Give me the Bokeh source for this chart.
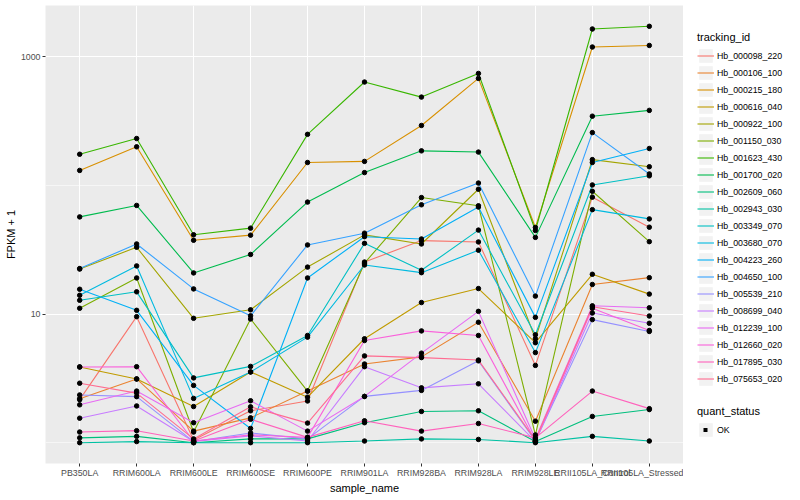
import math
from bokeh.plotting import figure
from bokeh.layouts import row
from bokeh.models import (FactorRange, Range1d, FixedTicker, Legend, LegendItem,
                          PrintfTickFormatter)
from bokeh.embed import file_html
from bokeh.resources import INLINE

samples = ["PB350LA", "RRIM600LA", "RRIM600LE", "RRIM600SE", "RRIM600PE",
           "RRIM901LA", "RRIM928BA", "RRIM928LA", "RRIM928LE",
           "RRII105LA_Control", "RRII105LA_Stressed"]

tracking_ids = ["Hb_000098_220", "Hb_000106_100", "Hb_000215_180", "Hb_000616_040",
                "Hb_000922_100", "Hb_001150_030", "Hb_001623_430", "Hb_001700_020",
                "Hb_002609_060", "Hb_002943_030", "Hb_003349_070", "Hb_003680_070",
                "Hb_004223_260", "Hb_004650_100", "Hb_005539_210", "Hb_008699_040",
                "Hb_012239_100", "Hb_012660_020", "Hb_017895_030", "Hb_075653_020"]

colors = ["#F8766D", "#EA8331", "#D89000", "#C09B00", "#A3A500", "#7CAE00", "#39B600",
          "#00BB4E", "#00BF7D", "#00C1A3", "#00BFC4", "#00BAE0", "#00B0F6", "#35A2FF",
          "#9590FF", "#C77CFF", "#E76BF3", "#FA62DB", "#FF62BC", "#FF6C91"]

# FPKM + 1 per sample
Hb_000098_220 = [2.16, 9.55, 1.05, 1.77, 2.11, 25.4, 37.3, 36.4, 3.99, 81.2, 47.4]
Hb_000106_100 = [2.2, 3.13, 1.23, 1.56, 2.52, 4.09, 4.65, 8.64, 1.47, 17.0, 19.2]
Hb_000215_180 = [131, 200, 37.5, 41.1, 151, 154, 293, 681, 47.2, 1194, 1228]
Hb_000616_040 = [3.88, 3.13, 1.91, 3.55, 2.26, 6.43, 12.3, 15.8, 5.99, 20.4, 14.3]
Hb_000922_100 = [22.4, 33.1, 9.27, 10.8, 23.2, 41.3, 35.1, 93.5, 6.43, 159, 140]
Hb_001150_030 = [11.1, 19.1, 1.21, 9.16, 2.52, 24.9, 80.6, 69.6, 1.15, 90.2, 36.6]
Hb_001623_430 = [175, 232, 41.4, 46.6, 250, 638, 487, 744, 44.7, 1649, 1730]
Hb_001700_020 = [57, 70, 20.9, 29.1, 74.3, 126, 186, 182, 39.5, 346, 384]
Hb_002609_060 = [1.09, 1.12, 1.0, 1.07, 1.07, 1.43, 1.75, 1.77, 1.02, 1.6, 1.81]
Hb_002943_030 = [1.0, 1.02, 1.0, 1.0, 1.0, 1.03, 1.07, 1.06, 1.0, 1.12, 1.03]
Hb_003349_070 = [12.8, 14.9, 3.19, 3.92, 6.82, 35.5, 21.9, 45.0, 6.9, 101, 119]
Hb_003680_070 = [14.0, 23.7, 2.21, 3.55, 6.62, 24.1, 21.0, 31.4, 5.02, 64.9, 55.0]
Hb_004223_260 = [15.6, 10.7, 2.79, 1.29, 19.1, 40.0, 38.4, 68.0, 9.43, 151, 194]
Hb_004650_100 = [22.6, 35.1, 15.7, 9.7, 34.5, 42.6, 70.8, 104.5, 13.8, 258, 123]
Hb_005539_210 = [2.35, 2.28, 1.02, 1.19, 1.07, 2.29, 2.55, 4.33, 1.03, 9.06, 7.33]
Hb_008699_040 = [1.55, 1.93, 1.02, 1.13, 1.03, 3.9, 2.67, 2.87, 1.02, 10.2, 8.48]
Hb_012239_100 = [1.97, 2.52, 1.43, 2.12, 1.23, 2.29, 4.97, 10.5, 1.07, 11.6, 11.2]
Hb_012660_020 = [3.88, 3.9, 1.03, 1.15, 1.1, 6.23, 7.4, 6.82, 1.03, 11.1, 7.46]
Hb_017895_030 = [1.21, 1.24, 1.03, 1.52, 1.1, 1.48, 1.23, 1.41, 1.09, 2.52, 1.84]
Hb_075653_020 = [2.9, 2.43, 1.07, 1.9, 1.42, 4.73, 4.59, 4.39, 1.05, 11.4, 9.66]

series = [Hb_000098_220, Hb_000106_100, Hb_000215_180, Hb_000616_040, Hb_000922_100,
          Hb_001150_030, Hb_001623_430, Hb_001700_020, Hb_002609_060, Hb_002943_030,
          Hb_003349_070, Hb_003680_070, Hb_004223_260, Hb_004650_100, Hb_005539_210,
          Hb_008699_040, Hb_012239_100, Hb_012660_020, Hb_017895_030, Hb_075653_020]

quant_status = ["OK"]

FONT = "Liberation Sans"
H = 496

all_vals = [v for s in series for v in s]
lo = math.log10(min(all_vals))
hi = math.log10(max(all_vals))
pad = 0.05 * (hi - lo)

p = figure(width=683, height=H,
           x_range=FactorRange(factors=samples, range_padding=0.2 / len(samples)),
           y_range=Range1d(10 ** (lo - pad), 10 ** (hi + pad)),
           y_axis_type="log", output_backend="svg", toolbar_location=None,
           min_border_left=45, min_border_right=0, min_border_top=5, min_border_bottom=0,
           background_fill_color="#EBEBEB", border_fill_color="white",
           outline_line_color=None)

for ax in (p.xaxis[0], p.yaxis[0]):
    ax.axis_line_color = None
    ax.major_tick_line_color = "#333333"
    ax.major_tick_in = 0
    ax.major_tick_out = 3
    ax.minor_tick_line_color = None
    ax.major_label_text_font = FONT
    ax.major_label_text_font_size = "8.8px"
    ax.major_label_text_color = "#4D4D4D"
    ax.major_label_standoff = 1
    ax.axis_label_text_font = FONT
    ax.axis_label_text_font_size = "11px"
    ax.axis_label_text_font_style = "normal"
    ax.axis_label_text_color = "black"
    ax.axis_label_standoff = 1

p.xaxis.axis_label = "sample_name"
p.yaxis.axis_label = "FPKM + 1"
yt = FixedTicker(ticks=[10, 1000], minor_ticks=[1, 100])
p.yaxis.ticker = yt
p.yaxis.formatter = PrintfTickFormatter(format="%d")
p.ygrid.ticker = yt

p.xgrid.grid_line_color = "white"
p.xgrid.grid_line_width = 1.1
p.ygrid.grid_line_color = "white"
p.ygrid.grid_line_width = 1.1
p.ygrid.minor_grid_line_color = "white"
p.ygrid.minor_grid_line_width = 0.55

for col, vals in zip(colors, series):
    p.line(samples, vals, line_color=col, line_width=1.1)

xs = [s for vals in series for s in samples]
ys = [v for vals in series for v in vals]
p.scatter(xs, ys, size=4.5, color="black")

# legend panel (renderers placed outside its visible range, only drawn as keys)
lf = figure(width=109, height=H, x_range=Range1d(0, 1), y_range=Range1d(0, 1),
            output_backend="svg", toolbar_location=None, min_border=0,
            x_axis_location=None, y_axis_location=None,
            background_fill_color="white", border_fill_color="white",
            outline_line_color=None)
lf.grid.visible = False

off = [-5]
key_bg = lf.rect(x=off, y=off, width=1, height=1, fill_color="#F2F2F2", line_color=None)
items = []
for tid, col in zip(tracking_ids, colors):
    r = lf.line(x=off, y=off, line_color=col, line_width=1.1)
    items.append(LegendItem(label=tid, renderers=[key_bg, r]))
# small square point key: a short thick dash centred in the key box
ok_key = lf.line(x=off, y=off, line_color="black", line_width=4, line_dash="0 6 4 30")

common = dict(orientation="vertical", spacing=0, padding=0, margin=0,
              label_standoff=3, title_standoff=4, border_line_color=None,
              background_fill_alpha=0, label_text_font=FONT,
              label_text_font_size="8.8px", label_text_color="black",
              title_text_font=FONT, title_text_font_size="11px",
              title_text_font_style="normal", title_text_color="black",
              glyph_width=17, glyph_height=17, label_height=17)

leg1 = Legend(items=items, title="tracking_id", location=(14, 76), **common)
leg2 = Legend(items=[LegendItem(label=quant_status[0], renderers=[key_bg, ok_key])],
              title="quant_status", location=(14, 25), **common)
lf.add_layout(leg1)
lf.add_layout(leg2)

layout = row(p, lf, spacing=0)
open("out.html", "w").write(file_html(layout, INLINE))
